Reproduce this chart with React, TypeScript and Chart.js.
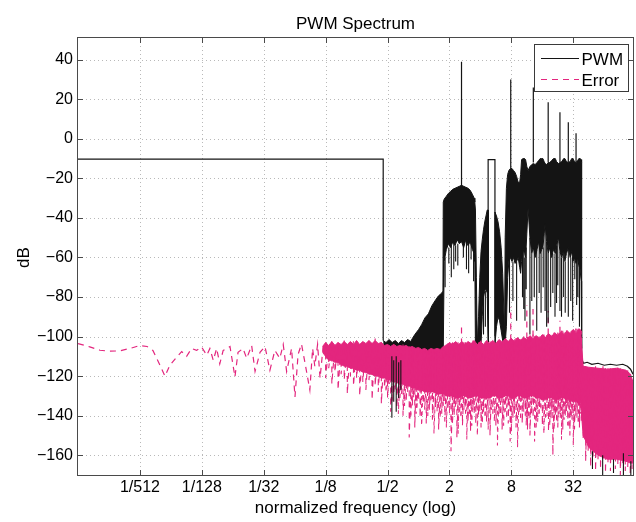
import React, { useEffect, useRef } from 'react';
import { Chart, registerables } from 'chart.js';

Chart.register(...registerables);

// ---------------- text ----------------
const TITLE = 'PWM Spectrum';
const X_TITLE = 'normalized frequency (log)';
const Y_TITLE = 'dB';
const SERIES_NAMES = ['PWM', 'Error'];

// ---------------- axes ----------------
const xTickValues = [1 / 512, 1 / 128, 1 / 32, 1 / 8, 1 / 2, 2, 8, 32];
const xTickLabels = ['1/512', '1/128', '1/32', '1/8', '1/2', '2', '8', '32'];
const yTickValues = [-160, -140, -120, -100, -80, -60, -40, -20, 0, 20, 40];
const xRangeLog2 = [-11, 6.93];
const yRange = [-170, 51];

// All frequencies below are log2(normalized frequency); values are dB.

// ---------------- PWM ----------------
// baseband plateau and its cut-off
const pwmBase: [number, number][] = [[-11, -10.3], [-1.14, -10.3], [-1.14, -102]];
// image of the baseband around 2*fc (outline only)
const pwmRect: [number, number][] = [[2.25, -80], [2.25, -10.5], [2.47, -10.5], [2.47, -100]];
// floor after the upper cut-off
const pwmTail: [number, number][] = [
  [5.27, -12], [5.27, -110], [5.29, -112], [5.33, -113.5], [5.45, -113], [5.6, -114], [5.8, -113.5],
  [6.0, -114.5], [6.2, -114], [6.4, -114.5], [6.6, -114], [6.75, -115], [6.85, -116.5], [6.93, -119],
];
// dense band: [log2 f, upper dB, lower dB]
const pwmBand: [number, number, number][] = [
  [-1.14, -102, -108], [-1.05, -103, -108], [-0.95, -101.5, -108], [-0.85, -103, -108], [-0.75, -102, -108],
  [-0.65, -103.5, -108], [-0.55, -102, -108], [-0.45, -103, -108], [-0.35, -101.5, -108], [-0.25, -102.5, -108],
  [-0.2, -101, -108], [-0.12, -99, -108], [0.0, -96.5, -108], [0.1, -94, -108], [0.21, -90.5, -108],
  [0.32, -88.5, -108], [0.43, -84.5, -108], [0.53, -82, -108], [0.64, -79.5, -108], [0.75, -78, -108],
  [0.79, -77, -108],
  [0.8, -32, -108], [0.83, -30.5, -62], [0.9, -29, -56], [0.97, -27.5, -53], [1.04, -26.5, -55],
  [1.11, -25.5, -52], [1.18, -25, -54], [1.25, -24.5, -51], [1.32, -24, -53], [1.39, -23.5, -52],
  [1.46, -24, -55], [1.53, -24.5, -51], [1.6, -25, -54], [1.67, -26, -52], [1.74, -28, -56],
  [1.8, -30, -58], [1.82, -32, -62],
  [1.84, -36, -107], [1.87, -70, -107], [1.9, -104, -107], [1.94, -90, -107], [1.98, -70, -106],
  [2.02, -57, -104], [2.06, -51, -90], [2.1, -46, -80], [2.14, -42, -77], [2.18, -39, -76],
  [2.22, -36, -78], [2.25, -36, -104], [2.26, -104, -106], [2.46, -104, -106], [2.47, -37, -104],
  [2.52, -39, -95], [2.57, -42, -90], [2.62, -47, -92], [2.67, -55, -97], [2.72, -68, -102],
  [2.76, -88, -105], [2.78, -100, -106],
  [2.8, -50, -104], [2.84, -25, -95], [2.88, -18, -70], [2.92, -16, -62], [2.97, -15, -60],
  [3.02, -15, -62], [3.07, -16, -60], [3.12, -17, -63], [3.17, -19, -62], [3.22, -22, -60],
  [3.27, -22, -65], [3.3, -18, -68],
  [3.33, -10.5, -62], [3.38, -10, -56], [3.43, -10, -58], [3.46, -10.5, -60], [3.5, -14, -48],
  [3.54, -16, -35], [3.6, -14, -50], [3.66, -13, -58], [3.71, -12.5, -55], [3.77, -13, -60],
  [3.83, -12, -56], [3.88, -11, -52], [3.93, -10, -58], [3.98, -10, -56], [4.02, -10, -55],
  [4.06, -11.5, -48], [4.09, -12.5, -43], [4.14, -13, -52], [4.19, -12, -58], [4.24, -12, -55],
  [4.3, -11, -60], [4.36, -10, -56], [4.42, -10, -58], [4.46, -11.5, -54], [4.52, -12.5, -50],
  [4.57, -12, -57], [4.63, -11.5, -60], [4.69, -10, -56], [4.73, -10, -62], [4.78, -11.5, -58],
  [4.84, -12, -55], [4.9, -11.5, -60], [4.95, -10, -57], [4.99, -10, -62], [5.04, -11.5, -60],
  [5.09, -12, -63], [5.14, -11, -60], [5.18, -10, -64], [5.22, -10, -66], [5.255, -10.5, -72],
  [5.27, -12, -106],
];
// carrier harmonics: [log2 f, base dB, peak dB]
const pwmHarmonics: [number, number, number][] = [
  [1.39, -24, 39], [2.98, -15, 30], [3.71, -12, 26], [4.19, -12, 18.5], [4.57, -12, 13.4],
  [4.84, -12, 8.4], [5.09, -12, 2.8],
];
// downward streaks: [log2 f, from dB, to dB]
const pwmStreaks: [number, number, number][] = [
  [-0.86, -110, -141], [-0.8, -112, -133], [-0.72, -110, -138], [-0.64, -113, -131], [-0.57, -112, -127],
  [0.86, -60, -75], [0.98, -55, -63], [1.06, -54, -70], [1.14, -52, -66], [1.2, -54, -62], [1.27, -53, -64],
  [1.45, -53, -60], [1.55, -51, -66], [1.62, -52, -68], [1.7, -52, -61], [1.78, -56, -72],
  [2.1, -78, -99], [2.16, -77, -95],
  [2.94, -60, -88], [3.05, -62, -82], [3.17, -62, -92],
  [3.36, -56, -80], [3.4, -56, -86], [3.44, -60, -92], [3.48, -55, -76], [3.6, -50, -99], [3.66, -58, -82],
  [3.74, -55, -80], [3.82, -56, -97], [3.9, -52, -78], [3.96, -56, -88], [4.03, -55, -75], [4.09, -43, -87],
  [4.14, -52, -95], [4.19, -58, -93], [4.27, -55, -85], [4.34, -58, -78], [4.41, -58, -90], [4.46, -54, -83],
  [4.5, -52, -74], [4.57, -57, -87], [4.62, -60, -90], [4.68, -56, -80], [4.74, -62, -88], [4.84, -55, -90],
  [4.92, -60, -82], [4.98, -60, -92], [5.05, -60, -71], [5.11, -60, -84], [5.15, -60, -80], [5.2, -64, -95],
  [5.62, -158, -167], [5.95, -160, -170], [6.3, -162, -169], [6.62, -159, -170], [6.86, -163, -170],
];

// ---------------- Error ----------------
// sparse low-frequency part: [log2 f, dB]
const errLow: [number, number][] = [
  [-11.0, -103.5], [-10.62, -105.2], [-10.29, -106.9], [-9.97, -107.4], [-9.65, -107.2], [-9.32, -106],
  [-9.0, -104.5], [-8.77, -105], [-8.58, -107], [-8.35, -114.5], [-8.19, -120], [-8.03, -114.5],
  [-7.81, -110.3], [-7.65, -107.6], [-7.49, -110], [-7.33, -106], [-7.17, -107], [-7.01, -105.2],
  [-6.84, -109.4], [-6.74, -106], [-6.63, -112], [-6.52, -106], [-6.42, -113.8], [-6.31, -107],
  [-6.09, -105], [-5.93, -120.4], [-5.83, -108], [-5.67, -106], [-5.55, -111], [-5.39, -104.5],
  [-5.28, -117.6], [-5.12, -108], [-4.96, -105], [-4.8, -117], [-4.64, -107], [-4.48, -111],
  [-4.37, -104], [-4.26, -117.6], [-4.1, -106], [-3.99, -130.5], [-3.89, -109], [-3.78, -103.8],
  [-3.67, -113], [-3.51, -127], [-3.42, -106], [-3.35, -115], [-3.26, -104], [-3.18, -121], [-3.08, -105],
];
// dense band: [log2 f, upper dB, lower dB]
const errBand: [number, number, number][] = [
  [-3.1, -105, -108], [-3.0, -103, -110], [-2.9, -104.5, -112], [-2.8, -102.5, -112], [-2.7, -104.5, -113],
  [-2.6, -103, -113], [-2.5, -104, -114], [-2.4, -102.5, -115], [-2.3, -104, -115], [-2.2, -102.5, -116],
  [-2.1, -104, -116], [-2.0, -102, -117], [-1.9, -104, -117], [-1.8, -102.5, -118], [-1.7, -103.5, -118],
  [-1.6, -102, -119], [-1.5, -103.5, -119], [-1.4, -102, -120], [-1.3, -103.5, -120], [-1.2, -103, -121],
  [-1.1, -104.5, -121], [-1.0, -104, -122], [-0.9, -105, -122], [-0.8, -104, -123], [-0.7, -105, -123],
  [-0.6, -104.5, -124], [-0.5, -105, -124], [-0.4, -104.5, -125], [-0.3, -105.5, -125], [-0.2, -105, -126],
  [-0.1, -106, -126], [0.0, -105.5, -127], [0.1, -106.5, -127], [0.2, -106, -128], [0.3, -107, -128],
  [0.4, -106, -128], [0.5, -106.5, -128], [0.6, -106, -129], [0.7, -106.5, -129], [0.8, -105, -129],
  [0.9, -104.5, -130], [1.0, -103, -130], [1.1, -104, -130], [1.2, -102.5, -131], [1.3, -104, -131],
  [1.4, -102.5, -130], [1.5, -104, -130], [1.6, -102.5, -131], [1.7, -103.5, -131], [1.8, -102, -130],
  [1.9, -104, -130], [2.0, -102.5, -131], [2.1, -104, -131], [2.2, -102, -131], [2.3, -103.5, -131],
  [2.4, -102, -130], [2.5, -103.5, -130], [2.6, -101.5, -131], [2.7, -103, -131], [2.8, -101, -130],
  [2.9, -102.5, -130], [3.0, -101, -131], [3.1, -102.5, -131], [3.2, -100.5, -130], [3.3, -102, -130],
  [3.4, -100.5, -131], [3.5, -101.5, -131], [3.6, -99.5, -130], [3.7, -101, -130], [3.8, -99.5, -131],
  [3.9, -101, -131], [4.0, -99, -132], [4.1, -100.5, -132], [4.2, -98.5, -131], [4.3, -100, -131],
  [4.4, -98, -132], [4.5, -99.5, -132], [4.6, -97.5, -131], [4.7, -99, -131], [4.8, -97, -132],
  [4.9, -98.5, -132], [5.0, -96.5, -133], [5.1, -98, -133], [5.18, -96, -134], [5.24, -97, -134],
  [5.27, -104, -140], [5.32, -115, -150], [5.5, -115.5, -156], [5.8, -116, -160], [6.1, -116.5, -162],
  [6.4, -116, -162], [6.7, -117, -163], [6.85, -119, -164], [6.93, -123, -164],
];
// noise streaks: [log2 f, top dB, bottom dB]
const errStreaks: [number, number, number][] = [
  [-3.0, -103, -121], [-2.9, -105, -116], [-2.8, -102, -124], [-2.7, -104, -118], [-2.6, -103, -127],
  [-2.5, -105, -119], [-2.4, -102, -122], [-2.3, -104, -129], [-2.2, -103, -120], [-2.1, -102, -125],
  [-2.0, -104, -121], [-1.9, -103, -130], [-1.8, -102, -123], [-1.7, -104, -127], [-1.6, -102, -122],
  [-1.5, -103, -132], [-1.4, -101, -125], [-1.3, -103, -128], [-1.2, -102, -134], [-1.1, -104.5, -126],
  [-1.0, -104, -131], [-0.9, -105, -138], [-0.8, -104, -129], [-0.7, -105, -136], [-0.6, -104.5, -131],
  [-0.5, -104, -140], [-0.4, -105, -133], [-0.3, -104.5, -151], [-0.2, -105, -135], [-0.12, -105.5, -146],
  [-0.05, -106, -136], [0.05, -106, -141], [0.15, -107, -134], [0.25, -106.5, -144], [0.35, -107, -137],
  [0.45, -106.5, -142], [0.55, -107, -136], [0.65, -106.5, -147], [0.75, -107, -139], [0.85, -105, -143],
  [0.95, -103, -137], [1.05, -104, -158], [1.15, -103, -140], [1.24, -102, -151], [1.33, -104, -138],
  [1.42, -103, -145], [1.52, -102, -139], [1.6, -104, -143], [1.68, -103, -148], [1.76, -102, -137],
  [1.85, -104, -144], [1.94, -103, -140], [2.02, -102, -146], [2.1, -104, -138], [2.2, -103, -143],
  [2.31, -102, -150], [2.4, -104, -139], [2.5, -102, -145], [2.6, -103, -140], [2.7, -101, -147],
  [2.8, -103, -138], [2.9, -102, -144], [2.96, -101, -153], [3.05, -102, -141], [3.15, -100, -146],
  [3.25, -102, -139], [3.35, -100, -144], [3.45, -101, -140], [3.52, -100, -147], [3.6, -101, -150],
  [3.7, -99, -141], [3.8, -101, -146], [3.9, -100, -139], [4.0, -99, -145], [4.1, -100, -141],
  [4.2, -99, -148], [4.28, -100, -142], [4.34, -98, -160], [4.42, -100, -140], [4.5, -98, -146],
  [4.58, -99, -141], [4.66, -97, -147], [4.74, -99, -140], [4.82, -97, -145], [4.89, -98, -150],
  [4.96, -96, -142], [5.04, -97, -147], [5.12, -96, -141], [5.2, -96, -146], [5.26, -97, -143],
  [5.32, -114, -152], [5.4, -115, -163], [5.48, -116, -158], [5.56, -115, -166], [5.64, -116, -161],
  [5.72, -115, -168], [5.8, -116, -162], [5.88, -116, -167], [5.96, -115, -163], [6.04, -116, -169],
  [6.12, -116, -164], [6.2, -115, -168], [6.28, -116, -162], [6.36, -116, -167], [6.44, -115, -165],
  [6.52, -116, -170], [6.6, -117, -164], [6.68, -116, -168], [6.76, -117, -166], [6.84, -119, -170],
  [6.9, -122, -167],
];
// second layer of noise streaks, between the first ones
const errStreaks2: [number, number, number][] = [
  [-1.05, -105, -128], [-0.95, -104.5, -124], [-0.85, -105, -133], [-0.75, -104.5, -127], [-0.65, -105, -139],
  [-0.55, -104.5, -129], [-0.45, -105, -135], [-0.35, -105, -128], [-0.25, -105.5, -141], [-0.16, -105.5, -131],
  [-0.08, -106, -139], [0.0, -106, -132], [0.1, -106.5, -145], [0.2, -107, -137], [0.3, -107, -140],
  [0.4, -107, -133], [0.5, -107, -149], [0.6, -107, -138], [0.7, -107, -141], [0.8, -106, -135],
  [0.9, -104, -146], [1.0, -104, -139], [1.1, -103, -144], [1.19, -103, -136], [1.28, -103, -149],
  [1.37, -104, -141], [1.47, -103, -137], [1.56, -103, -152], [1.64, -104, -140], [1.72, -103, -145],
  [1.8, -103, -139], [1.9, -104, -150], [1.98, -103, -138], [2.06, -103, -144], [2.15, -104, -141],
  [2.25, -103, -147], [2.35, -103, -137], [2.45, -103, -143], [2.55, -103, -155], [2.65, -102, -139],
  [2.75, -102, -145], [2.85, -102, -141], [2.93, -102, -136], [3.0, -101, -148], [3.1, -101, -139],
  [3.2, -101, -156], [3.3, -101, -142], [3.4, -100, -138], [3.48, -101, -145], [3.56, -100, -141],
  [3.65, -100, -139], [3.75, -100, -153], [3.85, -100, -143], [3.95, -100, -137], [4.05, -99, -149],
  [4.15, -99, -140], [4.24, -99, -145], [4.31, -99, -138], [4.38, -98, -147], [4.46, -98, -143],
  [4.54, -98, -139], [4.62, -97, -152], [4.7, -98, -142], [4.78, -97, -138], [4.86, -97, -146],
  [4.93, -97, -141], [5.0, -96, -155], [5.08, -96, -140], [5.16, -96, -144], [5.23, -96, -139],
];
// upward residues at the harmonics: [log2 f, base dB, top dB]
const errSpikes: [number, number, number][] = [
  [1.39, -104, -94], [2.98, -102, -85], [3.5, -101, -84], [3.7, -100, -86], [4.19, -99, -87], [4.57, -98, -92],
];

// ---------------- styles ----------------
const PWM_COLOR = '#141414';
const ERR_COLOR = '#e3267e';
const FONT_FAMILY = '"Liberation Sans", Arial, Helvetica, sans-serif';
const ERR_DASH = [6, 5];

type Pt = { x: number; y: number | null };
const P = (l: number, y: number | null): Pt => ({ x: Math.pow(2, l), y });
const polyline = (rows: [number, number][]) => rows.map(([l, y]) => P(l, y));
const verticals = (rows: [number, number, number][]) => {
  const out: Pt[] = [];
  rows.forEach(([l, a, b]) => { out.push(P(l, a), P(l, b), P(l, null)); });
  return out;
};
const zigzag = (rows: [number, number, number][]) => {
  const out: Pt[] = [];
  rows.forEach(([l, a, b]) => { out.push(P(l, a), P(l, b)); });
  return out;
};

const decor = {
  id: 'decor',
  beforeDatasetsDraw(chart: any) {
    const { ctx, chartArea: a, scales } = chart;
    const x = scales.x, y = scales.y;
    ctx.save();
    ctx.strokeStyle = '#b9b9b9';
    ctx.lineWidth = 1;
    ctx.setLineDash([1, 3]);
    ctx.beginPath();
    xTickValues.forEach((v) => {
      const px = Math.round(x.getPixelForValue(v)) + 0.5;
      ctx.moveTo(px, a.top); ctx.lineTo(px, a.bottom);
    });
    yTickValues.forEach((v) => {
      const py = Math.round(y.getPixelForValue(v)) + 0.5;
      ctx.moveTo(a.left, py); ctx.lineTo(a.right, py);
    });
    ctx.stroke();
    ctx.restore();
  },
  afterDatasetsDraw(chart: any) {
    const { ctx, chartArea: a, scales } = chart;
    const x = scales.x, y = scales.y;
    ctx.save();
    // axes box
    ctx.strokeStyle = '#4a4a4a';
    ctx.lineWidth = 1;
    ctx.setLineDash([]);
    ctx.strokeRect(a.left - 0.5, a.top - 0.5, a.right - a.left + 1, a.bottom - a.top + 1);
    // inward tick marks
    ctx.beginPath();
    xTickValues.forEach((v) => {
      const px = Math.round(x.getPixelForValue(v)) + 0.5;
      ctx.moveTo(px, a.bottom); ctx.lineTo(px, a.bottom - 5);
      ctx.moveTo(px, a.top); ctx.lineTo(px, a.top + 5);
    });
    yTickValues.forEach((v) => {
      const py = Math.round(y.getPixelForValue(v)) + 0.5;
      ctx.moveTo(a.left, py); ctx.lineTo(a.left + 5, py);
      ctx.moveTo(a.right, py); ctx.lineTo(a.right - 5, py);
    });
    ctx.stroke();
    // legend
    const bx = a.right - 99, by = a.top + 6, bw = 94, bh = 47;
    ctx.fillStyle = '#ffffff';
    ctx.fillRect(bx, by, bw, bh);
    ctx.strokeStyle = '#3a3a3a';
    ctx.strokeRect(bx + 0.5, by + 0.5, bw, bh);
    ctx.lineWidth = 1.2;
    ctx.strokeStyle = PWM_COLOR;
    ctx.beginPath(); ctx.moveTo(bx + 7, by + 14.5); ctx.lineTo(bx + 45, by + 14.5); ctx.stroke();
    ctx.strokeStyle = ERR_COLOR;
    ctx.setLineDash(ERR_DASH);
    ctx.beginPath(); ctx.moveTo(bx + 7, by + 35.5); ctx.lineTo(bx + 45, by + 35.5); ctx.stroke();
    ctx.setLineDash([]);
    ctx.fillStyle = '#000';
    ctx.font = `17px ${FONT_FAMILY}`;
    ctx.textAlign = 'left';
    ctx.textBaseline = 'alphabetic';
    ctx.fillText(SERIES_NAMES[0], bx + 47.5, by + 21);
    ctx.fillText(SERIES_NAMES[1], bx + 47.5, by + 42);
    ctx.restore();
  },
  afterDraw(chart: any) {
    const { ctx, chartArea: a } = chart;
    const cx = (a.left + a.right) / 2;
    ctx.save();
    ctx.fillStyle = '#000';
    ctx.font = `17px ${FONT_FAMILY}`;
    ctx.textAlign = 'center';
    ctx.textBaseline = 'alphabetic';
    ctx.fillText(TITLE, cx, 28.5);
    ctx.fillText(X_TITLE, cx, a.bottom + 38);
    ctx.translate(24, (a.top + a.bottom) / 2 + 1);
    ctx.rotate(-Math.PI / 2);
    ctx.textBaseline = 'middle';
    ctx.fillText(Y_TITLE, 0, 0);
    ctx.restore();
  },
};

export default function App() {
  const ref = useRef<HTMLCanvasElement | null>(null);
  useEffect(() => {
    if (!ref.current) return;
    Chart.defaults.font.family = FONT_FAMILY;
    Chart.defaults.color = '#000';
    const common = { pointRadius: 0, pointHoverRadius: 0, tension: 0, spanGaps: false };
    const chart = new Chart(ref.current, {
      type: 'line',
      data: {
        datasets: [
          { ...common, label: 'PWM harmonics', data: verticals(pwmHarmonics), borderColor: PWM_COLOR, borderWidth: 1.2, fill: false },
          { ...common, label: 'PWM streaks', data: verticals(pwmStreaks), borderColor: PWM_COLOR, borderWidth: 1.1, fill: false },
          { ...common, label: 'Error spikes', data: verticals(errSpikes), borderColor: ERR_COLOR, borderWidth: 1.2, borderDash: ERR_DASH, fill: false },
          { ...common, label: 'Error streaks', data: zigzag(errStreaks), borderColor: ERR_COLOR, borderWidth: 1.1, borderDash: ERR_DASH, fill: false },
          { ...common, label: 'Error streaks 2', data: zigzag(errStreaks2), borderColor: ERR_COLOR, borderWidth: 1, borderDash: [4, 4], fill: false },
          { ...common, label: 'Error', data: polyline(errLow), borderColor: ERR_COLOR, borderWidth: 1.2, borderDash: ERR_DASH, fill: false },
          { ...common, label: 'Error band hi', data: errBand.map(([l, h]) => P(l, h)), borderColor: ERR_COLOR, borderWidth: 1, backgroundColor: ERR_COLOR, fill: '+1' },
          { ...common, label: 'Error band lo', data: errBand.map(([l, , lo]) => P(l, lo)), borderColor: ERR_COLOR, borderWidth: 1, fill: false },
          {
            ...common, label: 'PWM', borderColor: PWM_COLOR, borderWidth: 1.2, fill: false,
            data: [...polyline(pwmBase), P(-1.14, null), ...polyline(pwmRect), P(2.47, null), ...polyline(pwmTail)],
          },
          { ...common, label: 'PWM band hi', data: pwmBand.map(([l, h]) => P(l, h)), borderColor: PWM_COLOR, borderWidth: 1, backgroundColor: PWM_COLOR, fill: '+1' },
          { ...common, label: 'PWM band lo', data: pwmBand.map(([l, , lo]) => P(l, lo)), borderColor: PWM_COLOR, borderWidth: 1, fill: false },
        ] as any,
      },
      options: {
        animation: false,
        responsive: false,
        devicePixelRatio: 1,
        events: [],
        layout: { padding: { top: 38, right: 3, bottom: 0, left: 0 } },
        plugins: {
          legend: { display: false },
          title: { display: false },
          tooltip: { enabled: false },
        },
        scales: {
          x: {
            type: 'logarithmic',
            min: Math.pow(2, xRangeLog2[0]),
            max: Math.pow(2, xRangeLog2[1]),
            grid: { display: false, drawTicks: false },
            border: { display: false },
            ticks: {
              padding: 3,
              maxRotation: 0,
              minRotation: 0,
              autoSkip: false,
              color: '#000',
              font: { size: 16, family: FONT_FAMILY },
              callback: (value: any) => {
                const i = xTickValues.findIndex((v) => Math.abs(v - Number(value)) < 1e-9);
                return i >= 0 ? xTickLabels[i] : '';
              },
            },
            afterBuildTicks: (s: any) => { s.ticks = xTickValues.map((v) => ({ value: v })); },
            afterFit: (s: any) => { s.height = 47; },
          },
          y: {
            type: 'linear',
            min: yRange[0],
            max: yRange[1],
            grid: { display: false, drawTicks: false },
            border: { display: false },
            ticks: {
              padding: 5,
              color: '#000',
              font: { size: 16, family: FONT_FAMILY },
              callback: (value: any) => {
                const v = Number(value);
                return v < 0 ? '\u2212' + Math.abs(v) : String(v);
              },
            },
            afterBuildTicks: (s: any) => { s.ticks = yTickValues.map((v) => ({ value: v })); },
            afterFit: (s: any) => { s.width = 78; },
          },
        },
      } as any,
      plugins: [decor],
    });
    return () => chart.destroy();
  }, []);

  return (
    <div style={{ position: 'absolute', left: 0, top: 0, width: 636, height: 522, background: '#fff' }}>
      <canvas ref={ref} width={636} height={522} style={{ display: 'block', width: 636, height: 522 }} />
    </div>
  );
}
